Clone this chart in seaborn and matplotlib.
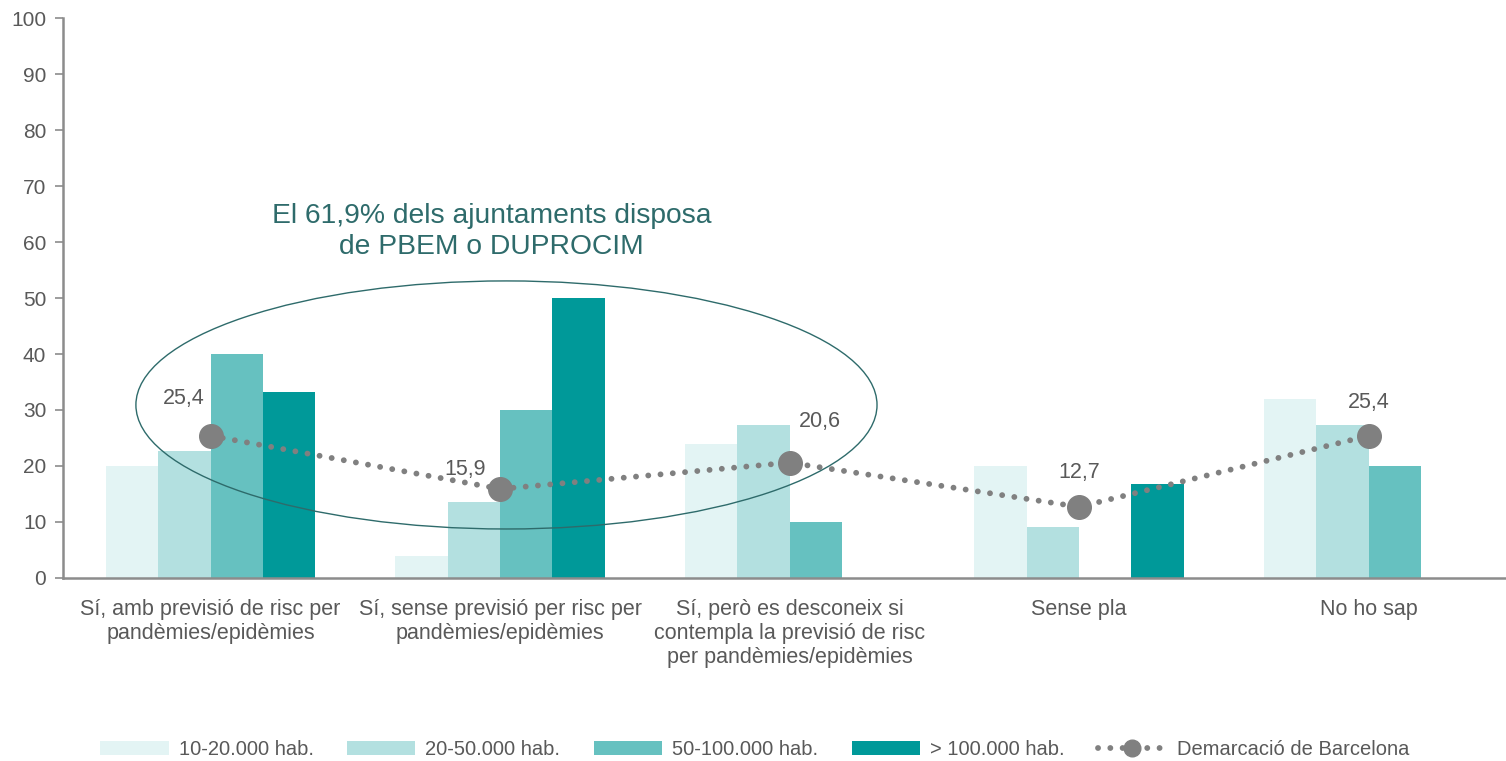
import matplotlib
matplotlib.use("Agg")
import matplotlib.pyplot as plt
import seaborn as sns
import pandas as pd
import numpy as np
from matplotlib.patches import Ellipse, Patch
from matplotlib.lines import Line2D

categories = [
    "Sí, amb previsió de risc per\npandèmies/epidèmies",
    "Sí, sense previsió per risc per\npandèmies/epidèmies",
    "Sí, però es desconeix si\ncontempla la previsió de risc\nper pandèmies/epidèmies",
    "Sense pla",
    "No ho sap",
]
series_names = ["10-20.000 hab.", "20-50.000 hab.", "50-100.000 hab.", "> 100.000 hab."]
s1 = [20.0, 3.9, 23.9, 20.0, 32.0]
s2 = [22.7, 13.6, 27.3, 9.1, 27.3]
s3 = [40.0, 30.0, 10.0, 0.0, 20.0]
s4 = [33.3, 50.0, 0.0, 16.7, 0.0]
total = [25.4, 15.9, 20.6, 12.7, 25.4]
total_labels = ["25,4", "15,9", "20,6", "12,7", "25,4"]
total_name = "Demarcació de Barcelona"
annotation = "El 61,9% dels ajuntaments disposa\nde PBEM o DUPROCIM"
yticks = list(range(0, 101, 10))

colors = ["#E3F4F4", "#B3E0E0", "#66C1C0", "#009999"]
text_grey = "#595959"
axis_grey = "#8C8C8C"
line_grey = "#808080"
teal_dark = "#2E6B6B"

rows = []
for name, vals in zip(series_names, [s1, s2, s3, s4]):
    for c, v in zip(categories, vals):
        rows.append({"cat": c, "serie": name, "val": v})
df = pd.DataFrame(rows)

sns.set_theme(style="white")
plt.rcParams["font.family"] = ["Liberation Sans", "DejaVu Sans"]

fig = plt.figure(figsize=(15.06, 7.61), dpi=100)
ax = fig.add_axes([0.0418, 0.2405, 0.96, 0.7358])

sns.barplot(data=df, x="cat", y="val", hue="serie", order=categories,
            hue_order=series_names, palette=colors, width=0.724,
            linewidth=0, saturation=1, errorbar=None, ax=ax, legend=False)

xs = np.arange(len(categories))
ax.plot(xs, total, color=line_grey, lw=4.2, linestyle=(0, (0.01, 2.1)),
        dash_capstyle="round", zorder=4)
ax.plot(xs, total, color=line_grey, lw=0, marker="o", markersize=17, zorder=5)

label_offsets = [(-0.093, 6.7), (-0.12, 3.4), (0.104, 7.4), (0.0, 6.05), (0.0, 5.85)]
for x, v, lab, (dx, dy) in zip(xs, total, total_labels, label_offsets):
    ax.text(x + dx, v + dy, lab, ha="center", va="center", fontsize=15.5, color=text_grey)

ell = Ellipse((1.022, 30.9), 2.56, 44.3, fill=False, edgecolor=teal_dark, lw=1.0, zorder=6)
ax.add_patch(ell)
ax.text(0.97, 61.8, annotation, ha="center", va="center", fontsize=20.3, color=teal_dark,
        linespacing=1.25)

ax.set_xlim(-0.51, 4.484)
ax.set_ylim(0, 100)
ax.set_yticks(yticks)
ax.set_xlabel("")
ax.set_ylabel("")
for s in ["top", "right"]:
    ax.spines[s].set_visible(False)
for s in ["left", "bottom"]:
    ax.spines[s].set_color(axis_grey)
    ax.spines[s].set_linewidth(1.8)
ax.tick_params(axis="y", which="both", left=True, length=6, width=1.2, color=axis_grey,
               labelsize=15, labelcolor=text_grey, pad=6)
ax.tick_params(axis="x", bottom=False, labelsize=15.5, labelcolor=text_grey, pad=9)
ax.set_xticks(xs)
ax.set_xticklabels(categories, linespacing=1.2)

handles = [Patch(facecolor=c, edgecolor="none") for c in colors]
handles.append(Line2D([0], [0], color=line_grey, lw=4.2, linestyle=(0, (0.01, 2.1)),
                      dash_capstyle="round", marker="o", markersize=12,
                      markerfacecolor=line_grey, markeredgecolor=line_grey))
labels = series_names + [total_name]
fig.legend(handles, labels, loc="center", bbox_to_anchor=(0.501, 0.0145), ncol=5,
           frameon=False, fontsize=14.5, labelcolor=text_grey, handlelength=3.4,
           handleheight=0.7, columnspacing=1.65, handletextpad=0.5)

fig.savefig("out.png", dpi=100, facecolor="white")
